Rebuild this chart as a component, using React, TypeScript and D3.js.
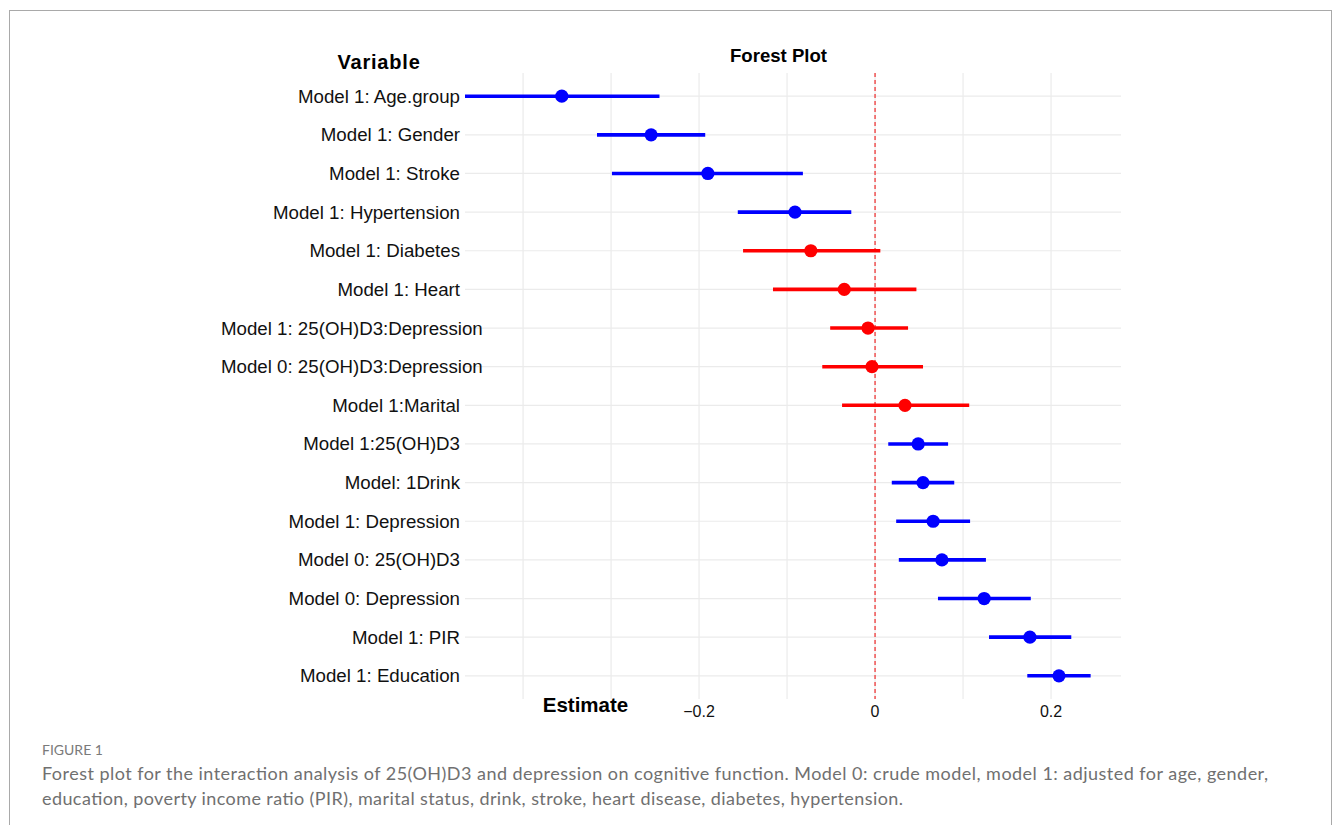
import { useEffect, useRef } from 'react';
import * as d3 from 'd3';

const variables = [
  'Model 1: Age.group',
  'Model 1: Gender',
  'Model 1: Stroke',
  'Model 1: Hypertension',
  'Model 1: Diabetes',
  'Model 1: Heart',
  'Model 1: 25(OH)D3:Depression',
  'Model 0: 25(OH)D3:Depression',
  'Model 1:Marital',
  'Model 1:25(OH)D3',
  'Model: 1Drink',
  'Model 1: Depression',
  'Model 0: 25(OH)D3',
  'Model 0: Depression',
  'Model 1: PIR',
  'Model 1: Education',
];
const estimates = [-0.356, -0.2545, -0.19, -0.091, -0.073, -0.035, -0.008, -0.0035, 0.034, 0.049, 0.0545, 0.066, 0.076, 0.124, 0.176, 0.209];
const lowerCI = [-0.466, -0.316, -0.299, -0.156, -0.15, -0.116, -0.051, -0.06, -0.0375, 0.015, 0.019, 0.024, 0.027, 0.0715, 0.1295, 0.173];
const upperCI = [-0.245, -0.193, -0.082, -0.027, 0.006, 0.047, 0.0375, 0.0545, 0.107, 0.083, 0.09, 0.108, 0.126, 0.177, 0.223, 0.245];
const gridTicks = [-0.4, -0.3, -0.2, -0.1, 0, 0.1, 0.2];
const labelTicks = [-0.2, 0, 0.2];
const captionLines = [
  'Forest plot for the interaction analysis of 25(OH)D3 and depression on cognitive function. Model 0: crude model, model 1: adjusted for age, gender,',
  'education, poverty income ratio (PIR), marital status, drink, stroke, heart disease, diabetes, hypertension.',
];

const W = 1333, H = 825;
const PL = 465, PR = 1121, PT = 73, PB = 699;
const FONT = '"Liberation Sans", Arial, sans-serif';
const CAP_FONT = 'Lato, "Open Sans", sans-serif';

export default function App() {
  const svgRef = useRef<SVGSVGElement>(null);

  useEffect(() => {
    const svg = d3.select(svgRef.current);
    svg.selectAll('*').remove();

    const rows = variables.map((v, i) => ({
      v, est: estimates[i], lo: lowerCI[i], hi: upperCI[i],
    }));

    const x = d3.scaleLinear().domain([-0.466, 0.2795]).range([PL, PR]);
    const y = d3.scalePoint().domain(variables).range([PT, PB]).padding(0.6);

    svg.append('rect')
      .attr('width', W).attr('height', H).attr('fill', '#fff');

    // frame
    svg.append('rect')
      .attr('x', 9.5).attr('y', 10.5)
      .attr('width', 1322).attr('height', 840)
      .attr('fill', 'none').attr('stroke', '#a9a9a9');

    // grid
    svg.append('g')
      .selectAll('line')
      .data(gridTicks)
      .join('line')
      .attr('x1', (d) => x(d)).attr('x2', (d) => x(d))
      .attr('y1', PT).attr('y2', PB)
      .attr('stroke', '#ebebeb').attr('stroke-width', 1.2);

    svg.append('g')
      .selectAll('line')
      .data(variables)
      .join('line')
      .attr('x1', PL).attr('x2', PR)
      .attr('y1', (d) => y(d)).attr('y2', (d) => y(d))
      .attr('stroke', '#ebebeb').attr('stroke-width', 1.2);

    // zero reference
    svg.append('line')
      .attr('x1', x(0)).attr('x2', x(0))
      .attr('y1', PT).attr('y2', PB)
      .attr('stroke', '#f03a3a').attr('stroke-width', 1.3)
      .attr('stroke-dasharray', '4,3');

    const colour = (d) => (d.lo < 0 && d.hi > 0 ? '#ff0000' : '#0000ff');

    // CIs
    svg.append('g')
      .selectAll('line')
      .data(rows)
      .join('line')
      .attr('x1', (d) => x(d.lo)).attr('x2', (d) => x(d.hi))
      .attr('y1', (d) => y(d.v)).attr('y2', (d) => y(d.v))
      .attr('stroke', colour).attr('stroke-width', 3.6);

    svg.append('g')
      .selectAll('circle')
      .data(rows)
      .join('circle')
      .attr('cx', (d) => x(d.est))
      .attr('cy', (d) => y(d.v))
      .attr('r', 6.6)
      .attr('fill', colour);

    // row labels
    svg.append('g')
      .selectAll('text')
      .data(variables)
      .join('text')
      .attr('x', PL - 5)
      .attr('y', (d) => y(d) + 6.5)
      .attr('text-anchor', 'end')
      .attr('font-family', FONT)
      .attr('font-size', 18.7)
      .attr('fill', '#111')
      .text((d) => d)
      .each(function () {
        const w = this.getComputedTextLength();
        if (PL - 5 - w < 221) d3.select(this).attr('x', 221 + w);
      });

    // x tick labels
    svg.append('g')
      .selectAll('text')
      .data(labelTicks)
      .join('text')
      .attr('x', (d) => x(d))
      .attr('y', 717)
      .attr('text-anchor', 'middle')
      .attr('font-family', FONT)
      .attr('font-size', 16)
      .attr('fill', '#111')
      .text((d) => (d === 0 ? '0' : d3.format('.1f')(d).replace('-', '\u2212')));

    svg.append('text')
      .attr('x', 379).attr('y', 69)
      .attr('text-anchor', 'middle')
      .attr('font-family', FONT).attr('font-weight', 700)
      .attr('font-size', 20).attr('letter-spacing', 0.8)
      .text('Variable');

    svg.append('text')
      .attr('x', 778.5).attr('y', 62)
      .attr('text-anchor', 'middle')
      .attr('font-family', FONT).attr('font-weight', 700)
      .attr('font-size', 18.6)
      .text('Forest Plot');

    svg.append('text')
      .attr('x', 585.5).attr('y', 712)
      .attr('text-anchor', 'middle')
      .attr('font-family', FONT).attr('font-weight', 700)
      .attr('font-size', 20.5)
      .text('Estimate');

    // caption
    svg.append('text')
      .attr('x', 42).attr('y', 755)
      .attr('font-family', CAP_FONT)
      .attr('font-size', 14)
      .attr('fill', '#7a7a7a')
      .text('FIGURE 1');

    const capW = [1226, 861];
    svg.append('g')
      .selectAll('text')
      .data(captionLines)
      .join('text')
      .attr('x', 42)
      .attr('y', (_, i) => 780 + i * 24.5)
      .attr('font-family', CAP_FONT)
      .attr('font-size', 18)
      .attr('fill', '#707070')
      .attr('textLength', (_, i) => capW[i])
      .attr('lengthAdjust', 'spacing')
      .text((d) => d);
  }, []);

  return (
    <div style={{ position: 'absolute', left: 0, top: 0 }}>
      <svg ref={svgRef} width={W} height={H} style={{ display: 'block' }} />
    </div>
  );
}
